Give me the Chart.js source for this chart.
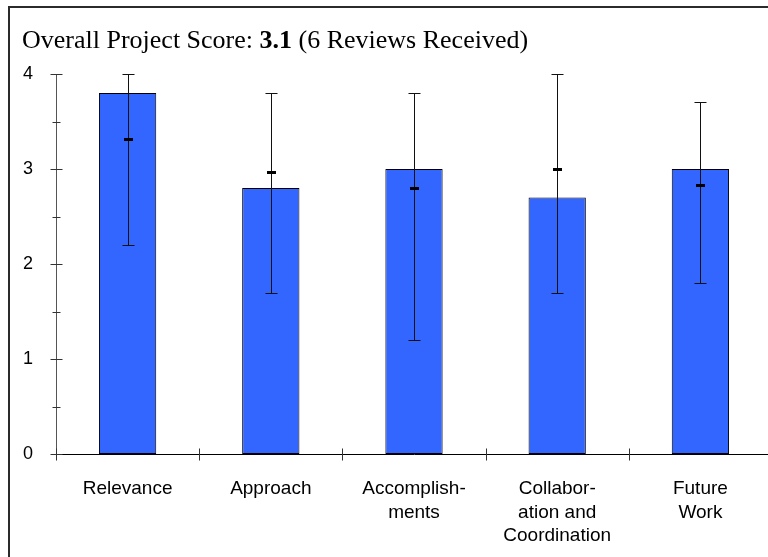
<!DOCTYPE html>
<html>
<head>
<meta charset="utf-8">
<script src="https://cdn.jsdelivr.net/npm/chart.js@4"></script>
<style>
  html, body { margin: 0; padding: 0; background: #fff; overflow: hidden; width: 768px; height: 557px; }
  #frame { position: absolute; left: 8px; top: 6px; width: 800px; height: 600px;
           border-top: 2px solid #2b2b2b; border-left: 2px solid #2b2b2b; overflow: hidden; }
  #title { position: absolute; left: 22px; top: 27px; font-family: "Liberation Serif", "Times New Roman", serif;
           font-size: 26px; line-height: 26px; color: #000; white-space: nowrap; }
  canvas { position: absolute; left: 0; top: 0; }
</style>
</head>
<body>
<div id="frame"><canvas id="myChart" width="790" height="560"></canvas></div>
<div id="title">Overall Project Score: <b>3.1</b> (6 Reviews Received)</div>
<script>
// 카테고리와 점수 데이터
const categories = ['Relevance', 'Approach', ['Accomplish-', 'ments'], ['Collabor-', 'ation and', 'Coordination'], ['Future', 'Work']];
const projectScores = [3.8, 2.8, 3.0, 2.7, 3.0];   // 막대 높이
const maxScores = [4.0, 3.8, 3.8, 4.0, 3.7];       // 오차 막대 위쪽
const minScores = [2.2, 1.7, 1.2, 1.7, 1.8];       // 오차 막대 아래쪽
const averageScores = [3.32, 2.97, 2.8, 3.0, 2.83]; // 가운데 표시
const yTicks = [0, 1, 2, 3, 4];

// 축 눈금과 오차 막대를 직접 그리는 플러그인
const errorBarPlugin = {
    id: 'errorBars',
    afterDatasetsDraw(chart) {
        const ctx = chart.ctx;
        const x = chart.scales.x;
        const y = chart.scales.y;
        ctx.save();
        ctx.strokeStyle = '#111';
        ctx.lineWidth = 1;
        for (let i = 0; i < categories.length; i++) {
            const px = Math.round(x.getPixelForValue(i)) + 0.5;
            const top = Math.round(y.getPixelForValue(maxScores[i])) + 0.5;
            const bot = Math.round(y.getPixelForValue(minScores[i])) + 0.5;
            ctx.beginPath();
            ctx.moveTo(px, top); ctx.lineTo(px, bot);
            ctx.moveTo(px - 6, top); ctx.lineTo(px + 6, top);
            ctx.moveTo(px - 6, bot); ctx.lineTo(px + 6, bot);
            ctx.stroke();
            const py = Math.round(y.getPixelForValue(averageScores[i]));
            ctx.fillStyle = '#000';
            ctx.fillRect(px - 4.5, py - 1, 9, 3);
        }
        // y축 눈금 (0.5 간격)
        const ax = Math.round(chart.chartArea.left) + 0.5;
        ctx.strokeStyle = '#333';
        for (let v = 0; v <= 4; v += 0.5) {
            const py = Math.round(y.getPixelForValue(v)) + 0.5;
            const len = (v % 1 === 0) ? 6 : 4;
            ctx.beginPath();
            ctx.moveTo(ax - len, py); ctx.lineTo(ax + len, py);
            ctx.stroke();
        }
        // x축 눈금 (카테고리 경계)
        const ay = Math.round(chart.chartArea.bottom) + 0.5;
        for (let i = 0; i <= categories.length; i++) {
            const px = Math.round(x.getPixelForValue(i) - (x.getPixelForValue(1) - x.getPixelForValue(0)) / 2) + 0.5;
            ctx.beginPath();
            ctx.moveTo(px, ay - 6); ctx.lineTo(px, ay + 6);
            ctx.stroke();
        }
        ctx.restore();
    }
};

const ctx = document.getElementById('myChart').getContext('2d');
const myChart = new Chart(ctx, {
    type: 'bar',
    data: {
        labels: categories,
        datasets: [{
            label: 'Score',
            data: projectScores,
            backgroundColor: '#3366FF',
            borderColor: '#000',
            borderWidth: 1,
            borderSkipped: false,
            barPercentage: 0.4,
            categoryPercentage: 1.0
        }]
    },
    options: {
        responsive: false,
        animation: false,
        devicePixelRatio: 1,
        layout: { padding: { left: 0, right: 28, top: 66, bottom: 0 } },
        plugins: {
            legend: { display: false },
            tooltip: { enabled: false }
        },
        scales: {
            x: {
                grid: { display: false, drawTicks: false },
                border: { display: true, color: '#000', width: 1 },
                ticks: {
                    color: '#000',
                    padding: 23,
                    maxRotation: 0,
                    autoSkip: false,
                    font: { family: 'Liberation Sans, Arial, sans-serif', size: 19, lineHeight: 1.24 }
                },
                afterFit(scale) { scale.height = 114; }
            },
            y: {
                min: 0,
                max: 4,
                afterBuildTicks(scale) { scale.ticks = yTicks.map(v => ({ value: v })); },
                grid: { display: false, drawTicks: false },
                border: { display: true, color: '#555', width: 1 },
                ticks: {
                    color: '#000',
                    padding: 23,
                    font: { family: 'Liberation Sans, Arial, sans-serif', size: 18 }
                },
                afterFit(scale) { scale.width = 46; }
            }
        }
    },
    plugins: [errorBarPlugin]
});
</script>
</body>
</html>
